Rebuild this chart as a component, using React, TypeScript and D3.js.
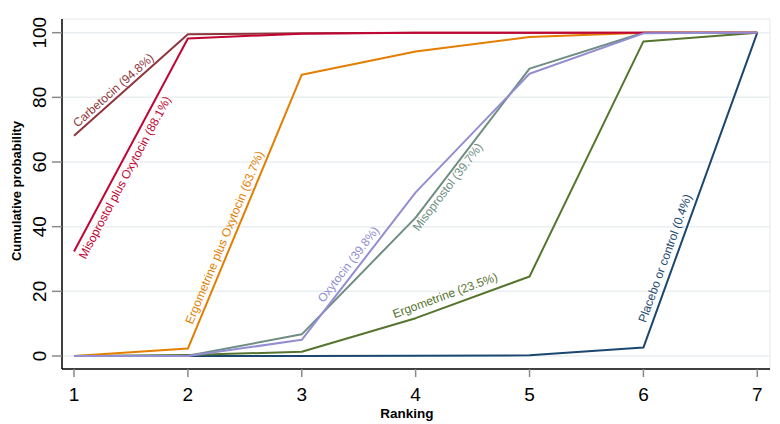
import React from "react";
import * as d3 from "d3";

const ranks = [1, 2, 3, 4, 5, 6, 7];
const yTicks = [0, 20, 40, 60, 80, 100];

const seriesNames = [
  "Placebo or control",
  "Carbetocin",
  "Ergometrine",
  "Ergometrine plus Oxytocin",
  "Misoprostol",
  "Misoprostol plus Oxytocin",
  "Oxytocin",
];
const seriesColors = ["#1a476f", "#90353b", "#55752f", "#e37e00", "#6e8e84", "#c10534", "#938dd2"];

const placeboValues = [0, 0, 0, 0.1, 0.2, 2.6, 100];
const carbetocinValues = [68.1, 99.5, 99.8, 100, 100, 100, 100];
const ergometrineValues = [0, 0.3, 1.3, 11.7, 24.6, 97.3, 100];
const ergoOxyValues = [0, 2.3, 87.0, 94.2, 98.7, 100, 100];
const misoprostolValues = [0, 0.1, 6.7, 42.8, 88.9, 100, 100];
const misoOxyValues = [32.3, 98.2, 99.7, 100, 100, 100, 100];
const oxytocinValues = [0, 0, 5.0, 50.6, 87.3, 99.8, 100];

const seriesValues = [
  placeboValues,
  carbetocinValues,
  ergometrineValues,
  ergoOxyValues,
  misoprostolValues,
  misoOxyValues,
  oxytocinValues,
];

const sucra = ["0.4%", "94.8%", "23.5%", "63.7%", "39.7%", "88.1%", "39.8%"];
// label anchor (rank, value) and the segment start rank whose slope sets the angle
const labelRanks = [6.02, 1.03, 3.815, 2.04, 4.024, 1.1, 3.19];
const labelValues = [10.1, 70.6, 11.7, 9.6, 38.4, 29.8, 16.3];
const labelSegments = [6, 1, 4, 2, 4, 1, 3];

const FONT = "'Liberation Sans', Arial, Helvetica, sans-serif";

export default function App() {
  const W = 780;
  const H = 424;
  const left = 62;
  const right = 770;
  const top = 19;
  const bottom = 369;

  const x = d3.scaleLinear().domain([1, 7]).range([74, 757.3]);
  const y = d3.scaleLinear().domain([0, 100]).range([356, 32.7]);

  const line = d3
    .line<number>()
    .x((_, i) => x(ranks[i]))
    .y((d) => y(d));

  return (
    <svg
      width={W}
      height={H}
      style={{ position: "absolute", left: 0, top: 0, background: "#fff" }}
      fontFamily={FONT}
    >
      <rect x={0} y={0} width={W} height={H} fill="#fff" />
      {yTicks.map((t) => (
        <line key={"g" + t} x1={left} x2={right} y1={y(t)} y2={y(t)} stroke="#eaeff2" strokeWidth={1.5} />
      ))}
      <line x1={left} x2={right} y1={top} y2={top} stroke="#e3e6e9" strokeWidth={1} />
      <line x1={right} x2={right} y1={top} y2={bottom} stroke="#e3e6e9" strokeWidth={1} />

      {seriesValues.map((vals, i) => (
        <path
          key={"s" + i}
          d={line(vals) || ""}
          fill="none"
          stroke={seriesColors[i]}
          strokeWidth={2}
          strokeLinejoin="round"
        />
      ))}

      {seriesValues.map((vals, i) => {
        const s = labelSegments[i];
        const x0 = x(ranks[s - 1]);
        const x1 = x(ranks[s]);
        const y0 = y(vals[s - 1]);
        const y1 = y(vals[s]);
        const ang = (Math.atan2(y1 - y0, x1 - x0) * 180) / Math.PI;
        const px = x(labelRanks[i]);
        const py = y(labelValues[i]);
        return (
          <text
            key={"l" + i}
            transform={`translate(${px},${py}) rotate(${ang})`}
            fontSize={12}
            fill={seriesColors[i]}
          >
            {`${seriesNames[i]} (${sucra[i]})`}
          </text>
        );
      })}

      <line x1={left} x2={left} y1={top} y2={bottom} stroke="#000" strokeWidth={1.5} />
      <line x1={left} x2={right} y1={bottom} y2={bottom} stroke="#000" strokeWidth={1.5} />

      {yTicks.map((t) => (
        <g key={"yt" + t}>
          <line x1={52} x2={left} y1={y(t)} y2={y(t)} stroke="#8a8a8a" strokeWidth={1.5} />
          <text
            transform={`translate(45.5,${y(t)}) rotate(-90)`}
            textAnchor="middle"
            fontSize={19}
            fill="#000"
          >
            {t}
          </text>
        </g>
      ))}
      {ranks.map((r) => (
        <g key={"xt" + r}>
          <line x1={x(r)} x2={x(r)} y1={bottom} y2={bottom + 8} stroke="#8a8a8a" strokeWidth={1.5} />
          <text x={x(r)} y={401} textAnchor="middle" fontSize={19} fill="#000">
            {r}
          </text>
        </g>
      ))}

      <text x={407} y={417.5} textAnchor="middle" fontSize={13.5} fontWeight="bold" fill="#000">
        Ranking
      </text>
      <text
        transform={`translate(21,191) rotate(-90)`}
        textAnchor="middle"
        fontSize={13}
        fontWeight="bold"
        fill="#000"
      >
        Cumulative probability
      </text>
    </svg>
  );
}
